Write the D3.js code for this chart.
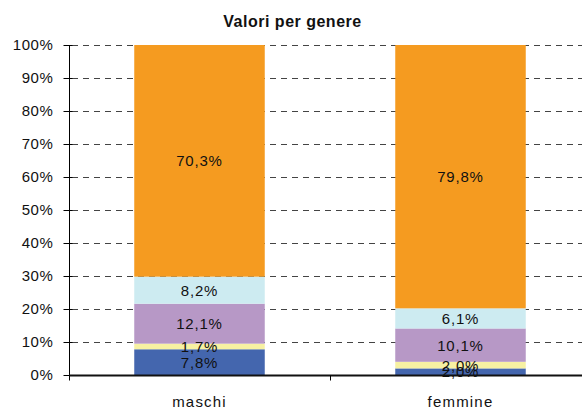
<!DOCTYPE html>
<html><head><meta charset="utf-8">
<script src="https://cdn.jsdelivr.net/npm/d3@7"></script>
<style>body{margin:0;background:#fff}svg{display:block}text{font-family:"Liberation Sans",Arial,sans-serif}</style>
</head><body>
<script>
const categories = ["maschi", "femmine"];
const seriesNames = ["s1", "s2", "s3", "s4", "s5"];
const seriesValues = [
  [7.8, 2.0],
  [1.7, 2.0],
  [12.1, 10.1],
  [8.2, 6.1],
  [70.3, 79.8]
];
const seriesColors = ["#4466ae", "#f7f1a2", "#b798c6", "#cdebf1", "#f59b20"];
const yTicks = [0,10,20,30,40,50,60,70,80,90,100];
const title = "Valori per genere";

const W = 582, H = 410;
const m = {left: 69, right: -9, top: 45, bottom: 35};
const svg = d3.select("body").append("svg").attr("width", W).attr("height", H);

const x = d3.scaleBand().domain(categories).range([m.left, W - m.right]).paddingInner(0).paddingOuter(0);
const y = d3.scaleLinear().domain([0, 100]).range([H - m.bottom, m.top]);

svg.append("text").attr("x", 292.5).attr("y", 27).attr("text-anchor", "middle")
  .attr("font-weight", "bold").attr("font-size", 16).attr("letter-spacing", 0.5).attr("fill", "#111").text(title);

// gridlines
svg.append("g").selectAll("line").data(yTicks.filter(d => d > 0)).join("line")
  .attr("x1", m.left + 3).attr("x2", W).attr("y1", d => y(d) + 0.5).attr("y2", d => y(d) + 0.5)
  .attr("stroke", "#444").attr("stroke-width", 1.2).attr("stroke-dasharray", "6,5");

// stacked bars
const stackData = categories.map((c, i) => {
  const o = {cat: c};
  seriesNames.forEach((s, j) => o[s] = seriesValues[j][i]);
  return o;
});
const stack = d3.stack().keys(seriesNames)(stackData);
const bw = x.bandwidth() * 0.5;
stack.forEach((layer, j) => {
  svg.append("g").selectAll("rect").data(layer).join("rect")
    .attr("x", d => x(d.data.cat) + (x.bandwidth() - bw) / 2)
    .attr("width", bw)
    .attr("y", d => y(Math.min(d[1], 100)))
    .attr("height", d => y(d[0]) - y(Math.min(d[1], 100)))
    .attr("fill", seriesColors[j]);
});
stack.forEach((layer, j) => {
  svg.append("g").selectAll("text").data(layer).join("text")
    .attr("x", d => x(d.data.cat) + x.bandwidth() / 2)
    .attr("y", d => (y(d[0]) + y(Math.min(d[1], 100))) / 2 + 5.5)
    .attr("text-anchor", "middle").attr("font-size", 15).attr("letter-spacing", 0.8).attr("fill", "#111")
    .text(d => (d[1] - d[0]).toFixed(1).replace(".", ",") + "%");
});

// y axis
const yAxis = d3.axisLeft(y).tickValues(yTicks).tickSize(6).tickFormat(d => d + "%");
const gy = svg.append("g").attr("transform", `translate(${m.left + 0.5},0)`).call(yAxis);
gy.select(".domain").attr("d", `M0,${y(100)}V${y(0) + 4}`).attr("stroke", "#000");
gy.selectAll(".tick line").attr("stroke", "#000").attr("x2", -6).attr("x1", 3);
gy.selectAll(".tick text").attr("font-size", 15).attr("letter-spacing", 0.6).attr("fill", "#111").attr("x", -16)
  .attr("font-family", "Liberation Sans, Arial, sans-serif");

// x axis
const gx = svg.append("g").attr("transform", `translate(0,${y(0) + 0.5})`);
gx.append("line").attr("x1", m.left).attr("x2", W).attr("stroke", "#111").attr("stroke-width", 1.8);
const bounds = categories.map(c => x(c)).concat([x(categories[categories.length-1]) + x.bandwidth()]);
gx.selectAll("line.t").data(bounds).join("line").attr("class", "t")
  .attr("x1", d => Math.round(d) + 0.5).attr("x2", d => Math.round(d) + 0.5).attr("y1", 0).attr("y2", 5)
  .attr("stroke", "#000");
gx.selectAll("text").data(categories).join("text")
  .attr("x", d => x(d) + x.bandwidth() / 2).attr("y", 31)
  .attr("text-anchor", "middle").attr("font-size", 15).attr("letter-spacing", 1.2).attr("fill", "#111").text(d => d);
</script>
</body></html>
